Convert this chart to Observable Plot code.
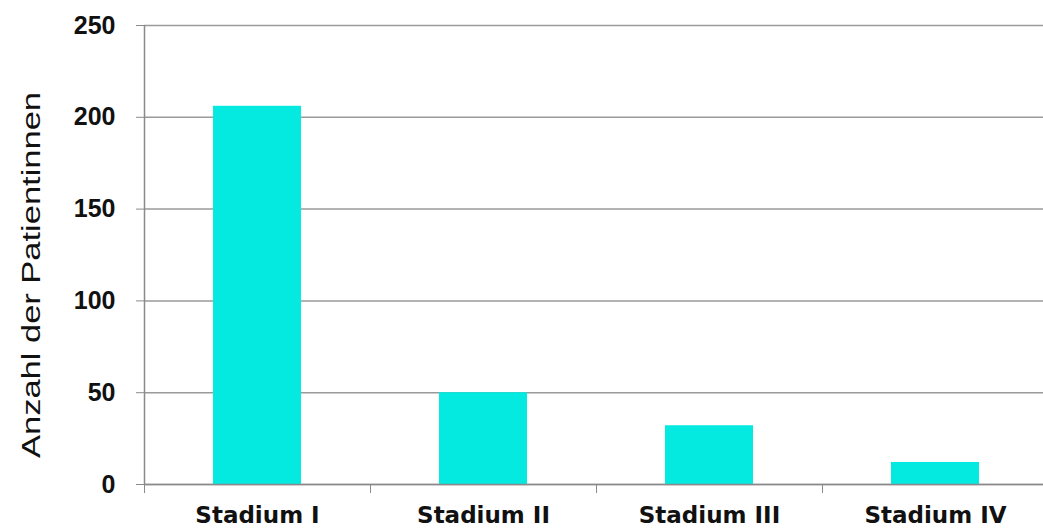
<!DOCTYPE html>
<html>
<head>
<meta charset="utf-8">
<script src="https://cdn.jsdelivr.net/npm/d3@7"></script>
<script src="https://cdn.jsdelivr.net/npm/@observablehq/plot@0.6"></script>
<style>
  html, body { margin: 0; padding: 0; background: #fff; }
</style>
</head>
<body>
<div id="chart"></div>
<script>
const categories = ["Stadium I", "Stadium II", "Stadium III", "Stadium IV"];
const counts = [206, 50, 32, 12];
const yTicks = [0, 50, 100, 150, 200, 250];
const yTitle = "Anzahl der Patientinnen";

const data = categories.map((c, i) => ({cat: c, i: i, v: counts[i]}));
const boundaries = d3.range(categories.length + 1);
const centers = categories.map((c, i) => i + 0.5);

const chart = Plot.plot({
  width: 1043,
  height: 529,
  marginTop: 25,
  marginBottom: 45,
  marginLeft: 144,
  marginRight: 0,
  x: {domain: [0, categories.length], range: [144, 1048]},
  y: {domain: [0, 250], range: [484, 25]},
  style: {fontFamily: "'Liberation Sans', Arial, sans-serif", background: "#fff", color: "#111"},
  marks: [
    Plot.gridY(yTicks, {stroke: "#9a9a9a", strokeOpacity: 1, strokeWidth: 1.5}),
    Plot.rectY(data, {x1: "i", x2: d => d.i + 1, y: "v", insetLeft: 69, insetRight: 69, fill: "#05EAE0"}),
    Plot.ruleX([0], {stroke: "#8a8a8a", strokeWidth: 1.5}),
    Plot.ruleY([0], {stroke: "#8a8a8a", strokeWidth: 1.5}),
    Plot.axisY(yTicks, {tickSize: 8, tickPadding: 21, fontSize: 25, fontWeight: "bold", stroke: "#8a8a8a", fill: "#111", label: null}),
    Plot.axisX(boundaries, {tickSize: 9, tickFormat: () => "", stroke: "#8a8a8a", label: null}),
    Plot.axisX(centers, {tickSize: 0, tickPadding: 22, tickFormat: d => categories[Math.round(d - 0.5)], fontSize: 23, fontWeight: "bold", fontFamily: "'DejaVu Sans', sans-serif", fill: "#111", label: null}),
    Plot.text([yTitle], {frameAnchor: "left", textAnchor: "start", dx: -113, dy: 203, rotate: -90, fontSize: 25, fill: "#111"})
  ]
});

d3.select(chart).selectAll("text")
  .filter(function() { return this.textContent === yTitle; })
  .attr("textLength", 366)
  .attr("lengthAdjust", "spacingAndGlyphs");

document.getElementById("chart").appendChild(chart);
</script>
</body>
</html>
